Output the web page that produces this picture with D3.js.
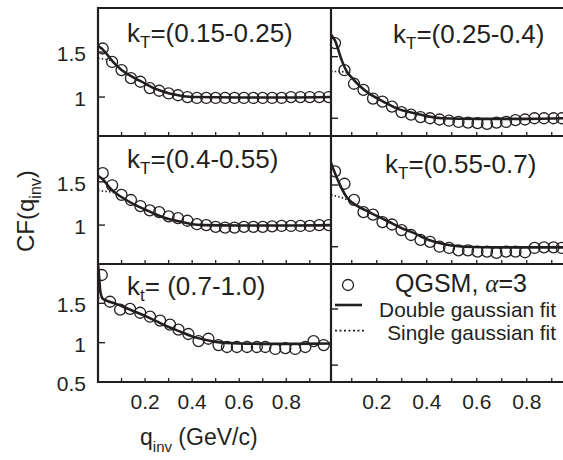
<!DOCTYPE html>
<html>
<head>
<meta charset="utf-8">
<script src="https://cdn.jsdelivr.net/npm/d3@7"></script>
<style>
body { margin: 0; background: #fff; }
text { font-family: "Liberation Sans", Arial, sans-serif; fill: #231f20; }
</style>
</head>
<body>
<div id="chart"></div>
<script>
// q_inv of the points (GeV/c)
const qLeft = [0.02, 0.06, 0.10, 0.14, 0.18, 0.22, 0.26, 0.30, 0.34, 0.38, 0.42, 0.46, 0.50,
               0.54, 0.58, 0.62, 0.66, 0.70, 0.74, 0.78, 0.82, 0.86, 0.90, 0.94, 0.98];
const qRight = [0.033, 0.071, 0.109, 0.147, 0.185, 0.223, 0.261, 0.299, 0.337, 0.375, 0.413, 0.451, 0.489,
                0.527, 0.565, 0.603, 0.641, 0.679, 0.717, 0.755, 0.793, 0.831, 0.869, 0.907, 0.94];
const qBottom = [0.016, 0.051, 0.094, 0.136, 0.179, 0.221, 0.264, 0.306, 0.342, 0.384, 0.427, 0.469,
                 0.512, 0.548, 0.59, 0.633, 0.675, 0.711, 0.753, 0.796, 0.838, 0.881, 0.916, 0.959];

// CF values (QGSM points)
const cfKt1 = [1.54, 1.39, 1.30, 1.21, 1.17, 1.10, 1.07, 1.04, 1.02, 1.00, 0.99, 0.99, 0.99,
               0.99, 0.99, 0.99, 0.99, 0.99, 0.99, 0.99, 1.00, 1.00, 1.00, 1.00, 1.00];
const cfKt2 = [1.61, 1.39, 1.28, 1.23, 1.16, 1.135, 1.095, 1.05, 1.03, 1.01, 1.00, 0.99, 0.98,
               0.97, 0.965, 0.96, 0.955, 0.965, 0.97, 0.985, 0.99, 1.00, 1.00, 1.00, 1.00];
const cfKt3 = [1.60, 1.46, 1.35, 1.29, 1.22, 1.17, 1.15, 1.10, 1.08, 1.05, 1.01, 1.00, 0.98,
               0.97, 0.97, 0.98, 0.98, 0.98, 0.985, 0.99, 0.99, 0.99, 0.99, 1.00, 1.00];
const cfKt4 = [1.61, 1.51, 1.38, 1.28, 1.26, 1.20, 1.18, 1.135, 1.095, 1.055, 1.04, 1.00, 0.99,
               0.97, 0.97, 0.96, 0.96, 0.95, 0.96, 0.96, 0.955, 0.99, 0.995, 0.995, 0.99];
const cfKt5 = [1.86, 1.52, 1.42, 1.43, 1.38, 1.33, 1.28, 1.23, 1.165, 1.11, 1.02, 1.05,
               0.97, 0.945, 0.945, 0.945, 0.945, 0.945, 0.92, 0.93, 0.92, 0.945, 1.02, 0.97];

// double gaussian fits [q, CF]
const fit2Kt1 = [[0, 1.57], [0.02, 1.53], [0.064, 1.39], [0.1, 1.30], [0.15, 1.22], [0.2, 1.15], [0.235, 1.10],
                 [0.28, 1.06], [0.32, 1.03], [0.4, 1.0], [0.6, 0.995], [0.8, 0.995], [0.99, 1.0]];
const fit2Kt2 = [[0.017, 1.68], [0.033, 1.63], [0.06, 1.47], [0.08, 1.38], [0.1, 1.33], [0.133, 1.26], [0.17, 1.20],
                 [0.213, 1.15], [0.25, 1.11], [0.293, 1.07], [0.33, 1.05], [0.373, 1.03], [0.42, 1.01],
                 [0.46, 1.0], [0.6, 0.995], [0.8, 0.995], [0.945, 1.0]];
const fit2Kt3 = [[0, 1.57], [0.02, 1.53], [0.05, 1.43], [0.08, 1.36], [0.12, 1.29], [0.16, 1.23], [0.2, 1.18],
                 [0.25, 1.12], [0.3, 1.07], [0.35, 1.04], [0.4, 1.01], [0.45, 1.0], [0.6, 0.995], [0.8, 0.995], [0.99, 1.0]];
const fit2Kt4 = [[0.017, 1.68], [0.04, 1.56], [0.06, 1.47], [0.08, 1.40], [0.1, 1.36], [0.15, 1.30], [0.2, 1.25],
                 [0.25, 1.20], [0.3, 1.15], [0.35, 1.11], [0.4, 1.06], [0.45, 1.03], [0.5, 1.01], [0.55, 1.0],
                 [0.7, 0.995], [0.945, 0.995]];
const fit2Kt5 = [[0, 2.0], [0.003, 1.9], [0.01, 1.65], [0.02, 1.56], [0.04, 1.53], [0.08, 1.49], [0.12, 1.44],
                 [0.16, 1.39], [0.2, 1.34], [0.25, 1.27], [0.3, 1.2], [0.35, 1.14], [0.4, 1.08], [0.45, 1.04],
                 [0.5, 1.01], [0.6, 0.99], [0.7, 0.985], [0.8, 0.985], [0.99, 0.99]];

// single gaussian fits, only where they leave the double fit
const fit1Kt1 = [[0, 1.43], [0.03, 1.42], [0.05, 1.41], [0.07, 1.37]];
const fit1Kt2 = [[0.017, 1.38], [0.05, 1.38], [0.08, 1.37], [0.1, 1.33]];
const fit1Kt3 = [[0, 1.40], [0.03, 1.39], [0.06, 1.38], [0.08, 1.36]];
const fit1Kt4 = [[0.017, 1.42], [0.04, 1.41], [0.07, 1.39], [0.1, 1.36]];
const fit1Kt5 = [[0, 1.57], [0.02, 1.56], [0.04, 1.53]];

const xTicks = [0.2, 0.4, 0.6, 0.8];
const xMinor = [0.1, 0.2, 0.3, 0.4, 0.5, 0.6, 0.7, 0.8, 0.9];
const yTicks = [1, 1.5];
const yTicksBottom = [0.5, 1, 1.5];

const ink = "#231f20";
const width = 563, height = 460;
const colLeft = [98, 331], colRight = [331, 563];

const xLeft = d3.scaleLinear().domain([0, 0.99]).range(colLeft);
const xRight = d3.scaleLinear().domain([0.017, 0.945]).range(colRight);

const panels = [
    { id: "p1", x: xLeft, top: 8, bottom: 136, yDom: [0.567, 1.99], q: qLeft, cf: cfKt1, fit2: fit2Kt1, fit1: fit1Kt1,
      ticks: yTicks, labels: true, k: ["k", "T", "=(0.15-0.25)"], lx: 127, ly: 42 },
    { id: "p2", x: xRight, top: 8, bottom: 136, yDom: [0.856, 1.895], q: qRight, cf: cfKt2, fit2: fit2Kt2, fit1: fit1Kt2,
      ticks: yTicks, labels: false, k: ["k", "T", "=(0.25-0.4)"], lx: 393, ly: 43 },
    { id: "p3", x: xLeft, top: 136, bottom: 264, yDom: [0.55, 2.03], q: qLeft, cf: cfKt3, fit2: fit2Kt3, fit1: fit1Kt3,
      ticks: yTicks, labels: true, k: ["k", "T", "=(0.4-0.55)"], lx: 127, ly: 168 },
    { id: "p4", x: xRight, top: 136, bottom: 264, yDom: [0.86, 1.897], q: qRight, cf: cfKt4, fit2: fit2Kt4, fit1: fit1Kt4,
      ticks: yTicks, labels: false, k: ["k", "T", "=(0.55-0.7)"], lx: 385, ly: 173 },
    { id: "p5", x: xLeft, top: 264, bottom: 382, yDom: [0.5, 2.0], q: qBottom, cf: cfKt5, fit2: fit2Kt5, fit1: fit1Kt5,
      ticks: yTicksBottom, labels: true, k: ["k", "t", "= (0.7-1.0)"], lx: 127, ly: 295 },
    { id: "p6", x: xRight, top: 264, bottom: 382, yDom: [0.85, 1.9], q: null,
      ticks: yTicks, labels: false, k: null }
];

const svg = d3.select("#chart")
    .append("svg")
    .attr("width", width)
    .attr("height", height);

svg.append("rect")
    .attr("width", width)
    .attr("height", height)
    .attr("fill", "white");

const defs = svg.append("defs");

panels.forEach(function (p) {
    const x = p.x;
    const y = d3.scaleLinear().domain(p.yDom).range([p.bottom, p.top]);
    const x0 = x.range()[0], x1 = x.range()[1];

    defs.append("clipPath")
        .attr("id", "clip-" + p.id)
        .append("rect")
        .attr("x", x0)
        .attr("y", p.top)
        .attr("width", x1 - x0)
        .attr("height", p.bottom - p.top);

    const g = svg.append("g");

    // y ticks, pointing inwards
    g.selectAll(".yt")
        .data(p.ticks)
        .enter()
        .append("line")
        .attr("x1", x0)
        .attr("x2", x0 + 7)
        .attr("y1", d => y(d))
        .attr("y2", d => y(d))
        .attr("stroke", ink)
        .attr("stroke-width", 1.4);

    if (p.labels) {
        g.selectAll(".yl")
            .data(p.ticks)
            .enter()
            .append("text")
            .attr("x", 86)
            .attr("y", d => y(d) + 1.5)
            .attr("text-anchor", "end")
            .attr("dominant-baseline", "central")
            .attr("font-size", "21px")
            .text(d => d3.format("~g")(d));
    }

    // x ticks along the bottom, pointing up
    g.selectAll(".xt")
        .data(xMinor.filter(d => x(d) < x1 - 2))
        .enter()
        .append("line")
        .attr("x1", d => x(d))
        .attr("x2", d => x(d))
        .attr("y1", p.bottom)
        .attr("y2", p.bottom - 4)
        .attr("stroke", ink)
        .attr("stroke-width", 1.3);

    if (p.bottom === 382) {
        g.selectAll(".xl")
            .data(xTicks)
            .enter()
            .append("text")
            .attr("x", d => x(d))
            .attr("y", 409)
            .attr("text-anchor", "middle")
            .attr("font-size", "21px")
            .text(d => d.toFixed(1));
    }

    if (!p.q) return;

    const clip = g.append("g").attr("clip-path", "url(#clip-" + p.id + ")");

    const line = d3.line()
        .x(d => x(d[0]))
        .y(d => y(d[1]))
        .curve(d3.curveMonotoneX);

    clip.append("path")
        .datum(p.fit1)
        .attr("fill", "none")
        .attr("stroke", ink)
        .attr("stroke-width", 1.6)
        .attr("stroke-dasharray", "1.5,2.2")
        .attr("d", line);

    clip.append("path")
        .datum(p.fit2)
        .attr("fill", "none")
        .attr("stroke", ink)
        .attr("stroke-width", 2.6)
        .attr("d", line);

    clip.selectAll("circle")
        .data(p.q.map((q, i) => [q, p.cf[i]]))
        .enter()
        .append("circle")
        .attr("cx", d => x(d[0]))
        .attr("cy", d => y(d[1]))
        .attr("r", 5.5)
        .attr("fill", "none")
        .attr("stroke", ink)
        .attr("stroke-width", 1.3);

    const lab = g.append("text")
        .attr("x", p.lx)
        .attr("y", p.ly)
        .attr("font-size", "26px");
    lab.append("tspan").text(p.k[0]);
    lab.append("tspan").attr("font-size", "17px").attr("dy", 6).text(p.k[1]);
    lab.append("tspan").attr("dy", -6).text(p.k[2]);
});

// frame lines
const frame = svg.append("g")
    .attr("stroke", ink)
    .attr("stroke-width", 2.2);
[8, 136, 264, 382].forEach(function (yy) {
    frame.append("line").attr("x1", 97).attr("x2", width).attr("y1", yy).attr("y2", yy);
});
frame.append("line").attr("x1", 98).attr("x2", 98).attr("y1", 7).attr("y2", 383);
frame.append("line").attr("x1", 331).attr("x2", 331).attr("y1", 7).attr("y2", 383);

// legend in the empty panel
const leg = svg.append("g");
leg.append("circle")
    .attr("cx", 348)
    .attr("cy", 285)
    .attr("r", 5.5)
    .attr("fill", "none")
    .attr("stroke", ink)
    .attr("stroke-width", 1.3);
const qg = leg.append("text")
    .attr("x", 395)
    .attr("y", 291.5)
    .attr("font-size", "25px");
qg.append("tspan").text("QGSM, ");
qg.append("tspan")
    .style("font-family", "'Liberation Serif', 'DejaVu Serif', serif")
    .style("font-style", "italic")
    .text("α");
qg.append("tspan").text("=3");

leg.append("line")
    .attr("x1", 335).attr("x2", 362)
    .attr("y1", 305).attr("y2", 305)
    .attr("stroke", ink)
    .attr("stroke-width", 2.6);
leg.append("text")
    .attr("x", 556)
    .attr("y", 316.5)
    .attr("text-anchor", "end")
    .attr("font-size", "20.8px")
    .text("Double gaussian fit");

leg.append("line")
    .attr("x1", 335).attr("x2", 366)
    .attr("y1", 330.7).attr("y2", 330.7)
    .attr("stroke", ink)
    .attr("stroke-width", 1.8)
    .attr("stroke-dasharray", "2,2.5");
leg.append("text")
    .attr("x", 556)
    .attr("y", 340)
    .attr("text-anchor", "end")
    .attr("font-size", "20.8px")
    .text("Single gaussian fit");

// axis titles
const xt = svg.append("text")
    .attr("x", 140)
    .attr("y", 445)
    .attr("font-size", "23px");
xt.append("tspan").text("q");
xt.append("tspan").attr("font-size", "15px").attr("dy", 7).text("inv");
xt.append("tspan").attr("dy", -7).text(" (GeV/c)");

const yt = svg.append("text")
    .attr("transform", "translate(34,252) rotate(-90)")
    .attr("font-size", "24px");
yt.append("tspan").text("CF(q");
yt.append("tspan").attr("font-size", "16px").attr("dy", 7).text("inv");
yt.append("tspan").attr("dy", -7).text(")");
</script>
</body>
</html>
